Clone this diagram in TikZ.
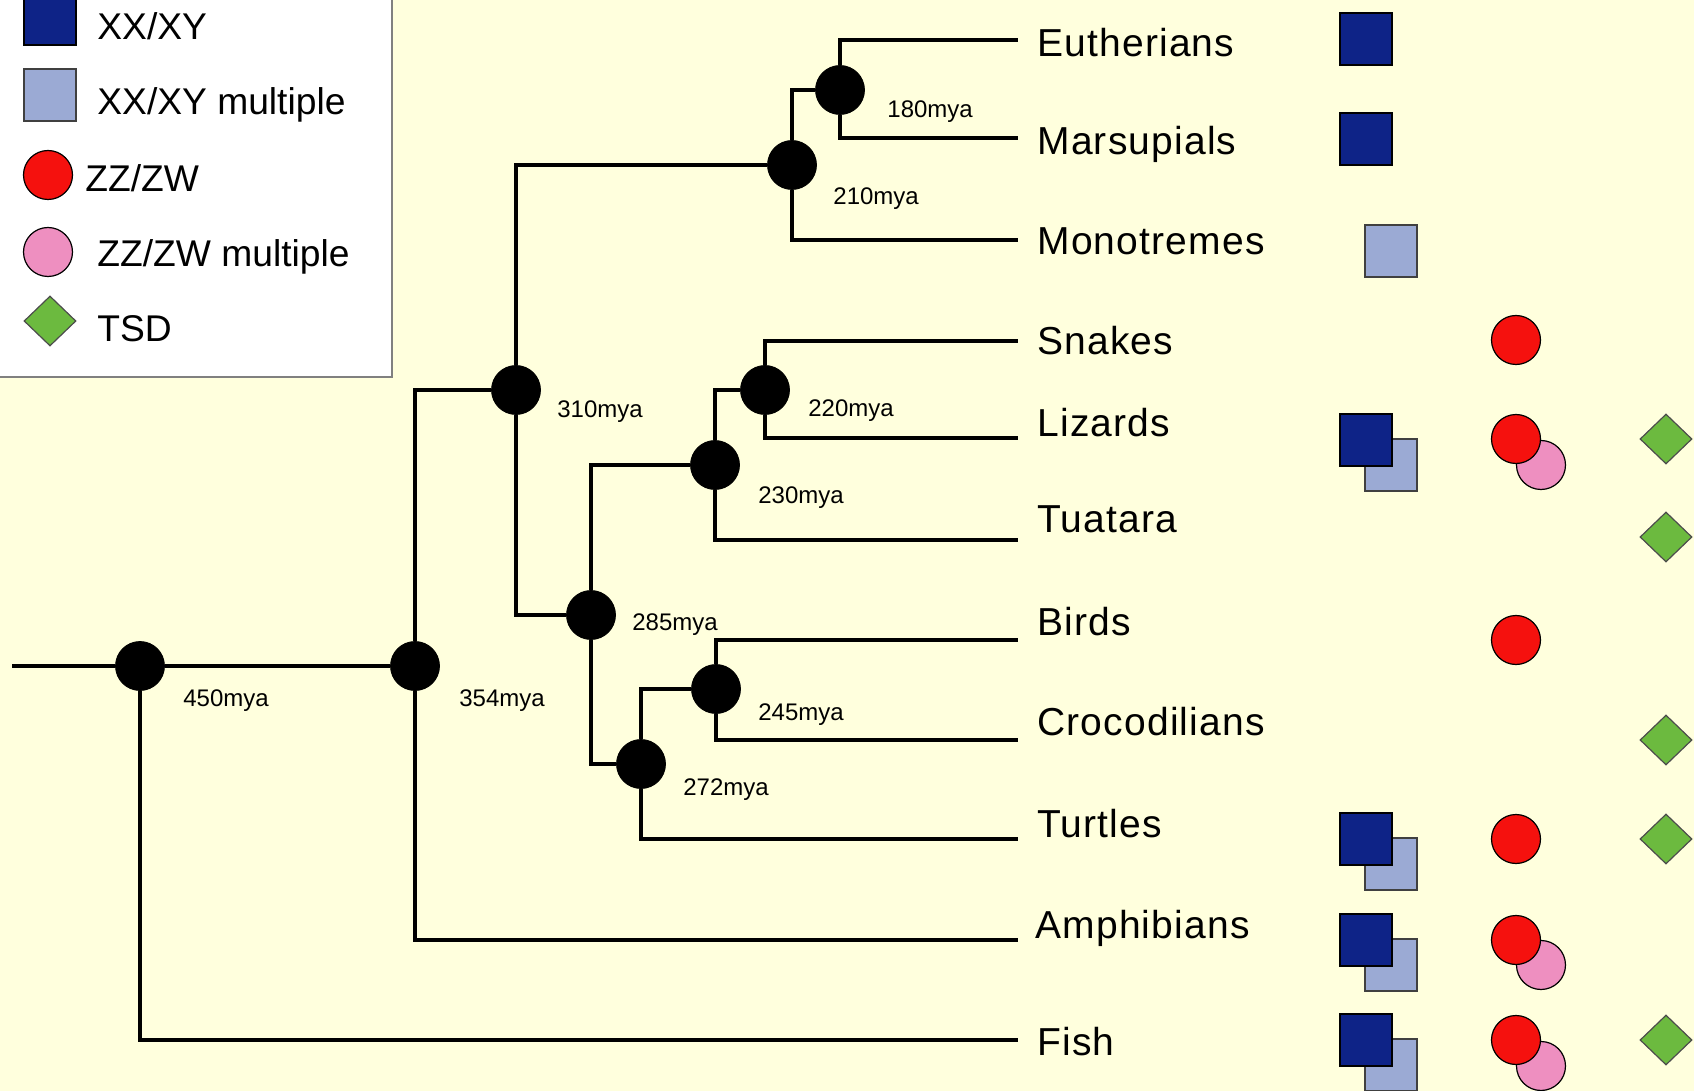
\documentclass[tikz,border=0pt]{standalone}
\usepackage{fontspec}
\setmainfont{Liberation Sans}
\newfontfamily\taxonfont[LetterSpace=3]{Liberation Sans}
\usetikzlibrary{shapes.geometric}

\definecolor{bgyellow}{RGB}{255,255,221}
\definecolor{xyblue}{RGB}{14,35,135}
\definecolor{xymult}{RGB}{155,170,212}
\definecolor{zwred}{RGB}{245,17,14}
\definecolor{zwpink}{RGB}{238,143,192}
\definecolor{tsdgreen}{RGB}{108,186,63}

\begin{document}
\begin{tikzpicture}[x=0.5pt,y=-0.5pt]
    % `clade' is used for the black dots at the branch points.
    % `age' is the small mya text beside a dot, `taxon' the names at the tips.
    % `xxxy', `xxxymult', `zzzw', `zzzwmult' and `tsd' are the key symbols.
    \tikzstyle{branch} = [line width=2pt,black]
    \tikzstyle{clade} = [draw,fill,shape=circle,minimum size=24.5pt,inner sep=0pt]
    \tikzstyle{age} = [anchor=base west,inner sep=0pt,font=\fontsize{12}{12}\selectfont]
    \tikzstyle{taxon} = [anchor=base west,inner sep=0pt,font=\taxonfont\fontsize{19.5}{20}\selectfont]
    \tikzstyle{keytext} = [anchor=base west,inner sep=0pt,font=\fontsize{18.6}{20}\selectfont]
    \tikzstyle{xxxy} = [draw=black,line width=0.6pt,fill=xyblue,minimum size=26pt,inner sep=0pt]
    \tikzstyle{xxxymult} = [draw=black!75,line width=0.6pt,fill=xymult,minimum size=26pt,inner sep=0pt]
    \tikzstyle{zzzw} = [draw=black,line width=0.6pt,fill=zwred,shape=circle,minimum size=24.5pt,inner sep=0pt]
    \tikzstyle{zzzwmult} = [draw=black,line width=0.6pt,fill=zwpink,shape=circle,minimum size=24.5pt,inner sep=0pt]
    \tikzstyle{tsd} = [draw=black!70,line width=0.6pt,fill=tsdgreen,shape=diamond,minimum width=26pt,minimum height=25pt,inner sep=0pt]
    %
    \fill[bgyellow] (0,0) rectangle (1694,1091);
    \useasboundingbox (0,0) rectangle (1694,1091);
    \clip (0,0) rectangle (1694,1091);
    %
    % Key box, cut by the top left corner.
    \draw[fill=white,draw=black!50,line width=1pt] (-10,-10) rectangle (392,377);
    \node[xxxy] (k1) at (50,19) {};
    \node[keytext] (k1t) at (97,40) {XX/XY};
    \node[xxxymult] (k2) at (50,95) {};
    \node[keytext] (k2t) at (97,115) {XX/XY multiple};
    \node[zzzw] (k3) at (48,175) {};
    \node[keytext] (k3t) at (85,192) {ZZ/ZW};
    \node[zzzwmult] (k4) at (48,252) {};
    \node[keytext] (k4t) at (97,267) {ZZ/ZW multiple};
    \node[tsd] (k5) at (50,321) {};
    \node[keytext] (k5t) at (97,342) {TSD};
    %
    % Branch points.
    \coordinate (root) at (12,666);
    \node[clade] (n450) at (140,666) {};
    \node[clade] (n354) at (415,666) {};
    \node[clade] (n310) at (516,390) {};
    \node[clade] (n210) at (792,165) {};
    \node[clade] (n180) at (840,90) {};
    \node[clade] (n285) at (591,615) {};
    \node[clade] (n230) at (715,465) {};
    \node[clade] (n220) at (765,390) {};
    \node[clade] (n272) at (641,764) {};
    \node[clade] (n245) at (716,689) {};
    %
    \node[age] (a450) at (183,706) {450mya};
    \node[age] (a354) at (459,706) {354mya};
    \node[age] (a310) at (557,418) {310mya};
    \node[age] (a210) at (833,205) {210mya};
    \node[age] (a180) at (887,118) {180mya};
    \node[age] (a285) at (632,630) {285mya};
    \node[age] (a230) at (758,503) {230mya};
    \node[age] (a220) at (808,417) {220mya};
    \node[age] (a272) at (683,795) {272mya};
    \node[age] (a245) at (758,720) {245mya};
    %
    % Tips.
    \coordinate (eutherians) at (1018,40);
    \coordinate (marsupials) at (1018,138);
    \coordinate (monotremes) at (1018,240);
    \coordinate (snakes) at (1018,341);
    \coordinate (lizards) at (1018,438);
    \coordinate (tuatara) at (1018,540);
    \coordinate (birds) at (1018,640);
    \coordinate (crocodilians) at (1018,740);
    \coordinate (turtles) at (1018,839);
    \coordinate (amphibians) at (1018,940);
    \coordinate (fish) at (1018,1040);
    %
    \node[taxon] (t1) at (1037,57) {Eutherians};
    \node[taxon] (t2) at (1037,155) {Marsupials};
    \node[taxon] (t3) at (1037,255) {Monotremes};
    \node[taxon] (t4) at (1037,355) {Snakes};
    \node[taxon] (t5) at (1037,437) {Lizards};
    \node[taxon] (t6) at (1037,532) {Tuatara};
    \node[taxon] (t7) at (1037,635) {Birds};
    \node[taxon] (t8) at (1037,735) {Crocodilians};
    \node[taxon] (t9) at (1037,837) {Turtles};
    \node[taxon] (t10) at (1035,938) {Amphibians};
    \node[taxon] (t11) at (1037,1055) {Fish};
    %
    % Draw lines.
    \draw[branch] (root) -- (n450)  (n450) -- (n354)  (n450) |- (fish)
                  (n354) |- (n310)  (n354) |- (amphibians)
                  (n310) |- (n210)  (n310) |- (n285)
                  (n210) |- (n180)  (n210) |- (monotremes)
                  (n180) |- (eutherians)  (n180) |- (marsupials)
                  (n285) |- (n230)  (n285) |- (n272)
                  (n230) |- (n220)  (n230) |- (tuatara)
                  (n220) |- (snakes)  (n220) |- (lizards)
                  (n272) |- (n245)  (n272) |- (turtles)
                  (n245) |- (birds)  (n245) |- (crocodilians);
    %
    % Symbols, the `multiple' one drawn first so the plain one lies on top.
    \node[xxxy] (s1a) at (1366,39) {};
    \node[xxxy] (s2a) at (1366,139) {};
    \node[xxxymult] (s3b) at (1391,251) {};
    \node[zzzw] (s4c) at (1516,340) {};
    \node[xxxymult] (s5b) at (1391,465) {};
    \node[xxxy] (s5a) at (1366,440) {};
    \node[zzzwmult] (s5d) at (1541,465) {};
    \node[zzzw] (s5c) at (1516,439) {};
    \node[tsd] (s5e) at (1666,439) {};
    \node[tsd] (s6e) at (1666,537) {};
    \node[zzzw] (s7c) at (1516,640) {};
    \node[tsd] (s8e) at (1666,740) {};
    \node[xxxymult] (s9b) at (1391,864) {};
    \node[xxxy] (s9a) at (1366,839) {};
    \node[zzzw] (s9c) at (1516,839) {};
    \node[tsd] (s9e) at (1666,839) {};
    \node[xxxymult] (s10b) at (1391,965) {};
    \node[xxxy] (s10a) at (1366,940) {};
    \node[zzzwmult] (s10d) at (1541,965) {};
    \node[zzzw] (s10c) at (1516,940) {};
    \node[xxxymult] (s11b) at (1391,1065) {};
    \node[xxxy] (s11a) at (1366,1040) {};
    \node[zzzwmult] (s11d) at (1541,1066) {};
    \node[zzzw] (s11c) at (1516,1040) {};
    \node[tsd] (s11e) at (1666,1040) {};
\end{tikzpicture}
\end{document}
